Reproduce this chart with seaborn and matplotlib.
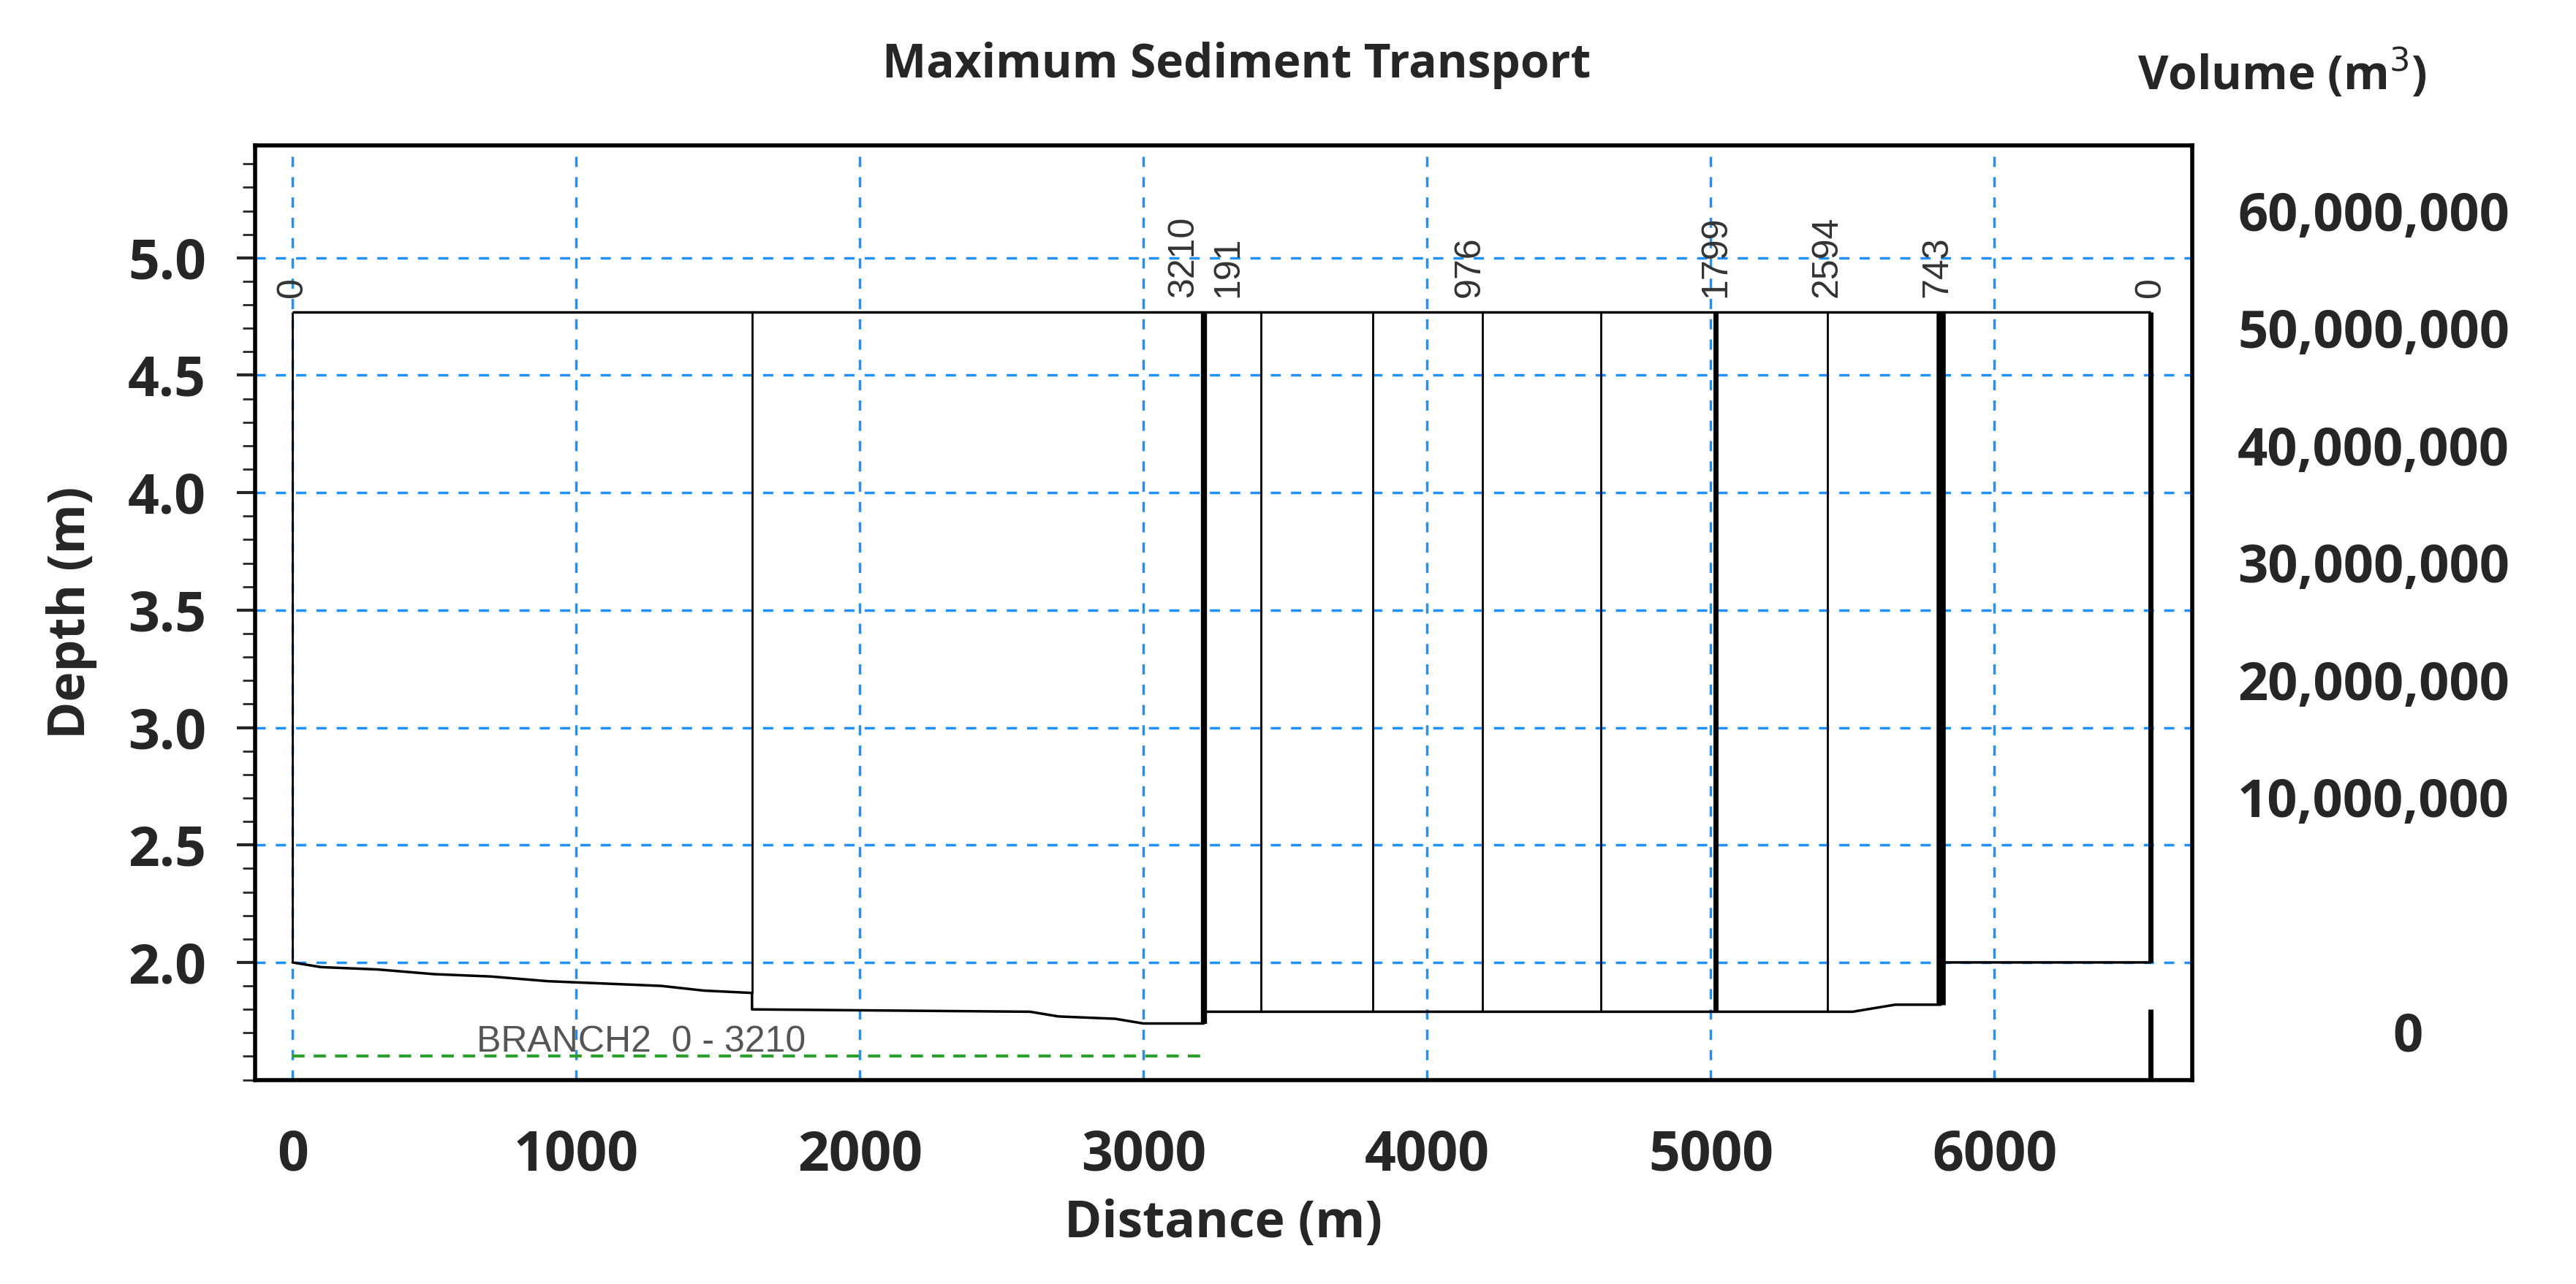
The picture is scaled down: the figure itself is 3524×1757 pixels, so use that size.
import matplotlib
matplotlib.use("Agg")
import matplotlib.pyplot as plt
import seaborn as sns
import numpy as np
from matplotlib.ticker import AutoMinorLocator

sns.set_theme(style="white")
plt.rcParams['font.family'] = ['Open Sans', 'DejaVu Sans']

# vertical transport bars (chainage m, line width)
bar_x = [0, 1620, 3212, 3415, 3808, 4196, 4612, 5017, 5410, 5810, 6550]
bar_w = [2, 2, 6, 2, 2, 2, 2, 5, 2, 9, 5]
top_level = 4.77
# bed profile
bed_x = [0, 100, 300, 500, 700, 900, 1100, 1300, 1450, 1620, 1620, 2600, 2700, 2900, 3000, 3212,
         3212, 3500, 4000, 4500, 5000, 5500, 5650, 5810, 5810, 6550]
bed_y = [2.0, 1.98, 1.97, 1.95, 1.94, 1.92, 1.91, 1.90, 1.88, 1.87, 1.80, 1.79, 1.77, 1.76, 1.74, 1.74,
         1.79, 1.79, 1.79, 1.79, 1.79, 1.79, 1.82, 1.82, 2.0, 2.0]
bar_bottom = [2.0, 1.87, 1.74, 1.79, 1.79, 1.79, 1.79, 1.79, 1.79, 1.82, 2.0]
green_x = [0, 3212]
green_y = [1.6, 1.6]
label_x = [0, 3140, 3300, 4150, 5017, 5410, 5800, 6550]
label_txt = ["0", "3210", "191", "976", "1799", "2594", "743", "0"]
xticks = [0, 1000, 2000, 3000, 4000, 5000, 6000]
yticks = [2.0, 2.5, 3.0, 3.5, 4.0, 4.5, 5.0]
vol_ticks = [10e6, 20e6, 30e6, 40e6, 50e6, 60e6]
vol_labels = ["10,000,000", "20,000,000", "30,000,000", "40,000,000", "50,000,000", "60,000,000"]

fig = plt.figure(figsize=(35.24, 17.57), dpi=100)
ax = fig.add_axes([0.0989, 0.159, 0.752, 0.728])
ax.set_xlim(-133, 6696)
ax.set_ylim(1.5, 5.48)

ax.set_xticks(xticks)
ax.set_yticks(yticks)
ax.grid(True, color="#1e90ff", linestyle=(0, (4, 4)), linewidth=2.5)
for s in ax.spines.values():
    s.set_color("black"); s.set_linewidth(4)
ax.xaxis.set_minor_locator(AutoMinorLocator(10))
ax.yaxis.set_minor_locator(AutoMinorLocator(5))
ax.tick_params(which="minor", length=12, width=2)
ax.tick_params(axis="both", which="major", labelsize=54, width=3, length=18, direction="out", pad=30)
ax.set_yticklabels([f"{v:.1f}" for v in yticks])
for lab in ax.get_xticklabels() + ax.get_yticklabels():
    lab.set_fontweight("bold")

sns.lineplot(x=bed_x, y=bed_y, ax=ax, color="black", linewidth=2.5, sort=False, estimator=None)
ax.hlines(top_level, 0, 6550, color="black", linewidth=2.5)
for x, w, b in zip(bar_x, bar_w, bar_bottom):
    ax.vlines(x, b, top_level, color="black", linewidth=w)
ax.vlines(bar_x[-1], 1.5, 1.8, color="black", linewidth=5)
ax.plot(green_x, green_y, color="#2ca02c", linestyle=(0, (4, 3)), linewidth=3)
for x, t in zip(label_x, label_txt):
    ax.text(x, 4.83, t, rotation=90, ha="center", va="bottom", fontsize=36,
            family="Liberation Sans", color="#333333")
ax.text(650, 1.66, "BRANCH2  0 - 3210", fontsize=36, family="Liberation Sans",
        color="#555555", ha="left", va="center")

ax.set_xlabel("Distance (m)", fontsize=50, fontweight="bold", labelpad=15)
ax.set_ylabel("Depth (m)", fontsize=50, fontweight="bold", labelpad=30)

ax2 = ax.twinx()
ax2.set_ylim(-14.1e6, 65.6e6)
ax2.set_yticks(vol_ticks + [-9.93e6])
ax2.set_yticklabels(vol_labels + ["0"])
ax2.tick_params(axis="y", labelsize=52, length=0, pad=45)
for lab in ax2.get_yticklabels():
    lab.set_fontweight("bold")
ax2.get_yticklabels()[-1].set_position((1.08, 0))
for s in ax2.spines.values():
    s.set_visible(False)

fig.text(0.48, 0.949, "Maximum Sediment Transport", fontsize=46, fontweight="bold", ha="center", va="center")
fig.text(0.886, 0.942, "Volume (m$^3$)", fontsize=46, fontweight="bold", ha="center", va="center")

fig.savefig("out.png", dpi=100)
